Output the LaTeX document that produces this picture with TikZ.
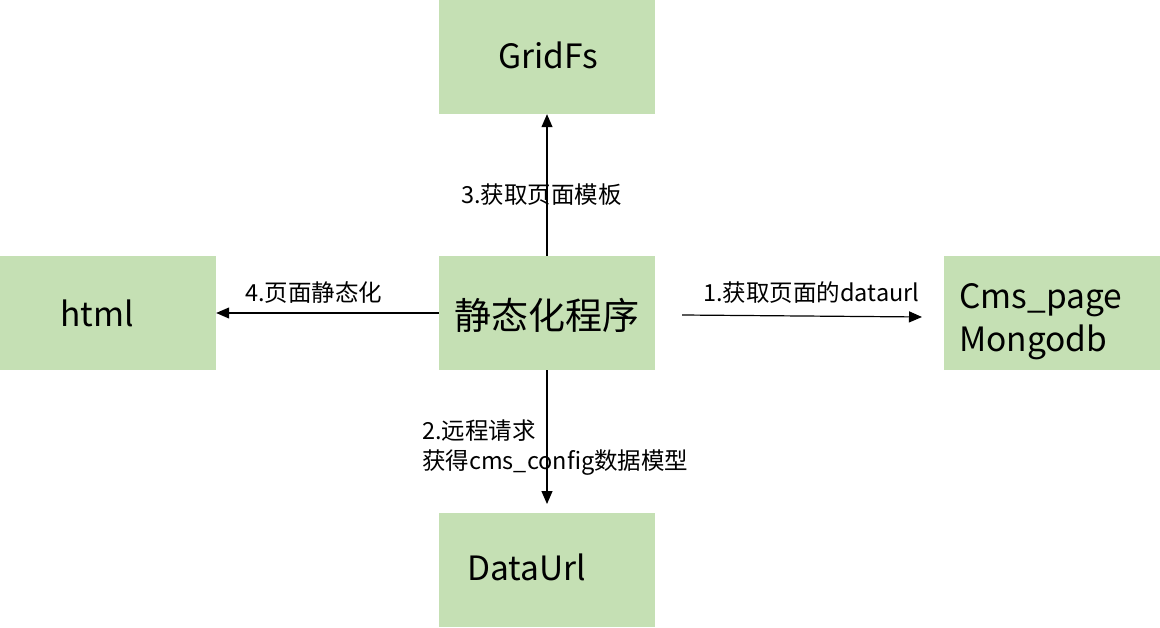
\documentclass[tikz,border=0pt]{standalone}
\usepackage{fontspec}
\setmainfont{Noto Sans CJK SC}
\usetikzlibrary{arrows.meta}
\definecolor{boxgreen}{HTML}{C5E0B4}
\tikzset{
  box/.style={fill=boxgreen, draw=none, minimum width=216pt, minimum height=114pt, inner sep=0pt},
  boxtext/.style={font=\fontsize{33.5}{40}\selectfont, inner sep=0pt, anchor=west, align=left},
  lbl/.style={font=\fontsize{23.5}{30}\selectfont, inner sep=0pt, anchor=west, align=left},
  conn/.style={line width=1.2pt, -{Triangle[length=13pt,width=11pt]}}
}
\begin{document}
\begin{tikzpicture}[x=1pt,y=-1pt]
\useasboundingbox (0,0) rectangle (1160,628);
\node[box] (gridfs) at (547,57) {};
\node[box] (html) at (108,313) {};
\node[box] (prog) at (547,313) {};
\node[box] (cms) at (1052,313) {};
\node[box] (dataurl) at (547,570) {};
\node[boxtext] (tgrid) at (498,55) {GridFs};
\node[boxtext] (thtml) at (60,313) {html};
\node[boxtext, font=\fontsize{37}{44}\selectfont] (tprog) at (454,315) {静态化程序};
\node[boxtext, font=\fontsize{33.5}{43}\selectfont] (tcms) at (959,322) {Cms\_page\\Mongodb};
\node[boxtext] (tdata) at (467,567) {DataUrl};
\coordinate (a1s) at (682,315);
\coordinate (a1e) at (922,317);
\coordinate (a2e) at (547,504);
\draw[conn] (a1s) -- (a1e);
\draw[conn] (prog.south) -- (a2e);
\draw[conn] (prog.north) -- (gridfs.south);
\draw[conn] (prog.west) -- (html.east);
\node[lbl] (l1) at (703,293) {1.获取页面的dataurl};
\node[lbl] (l2) at (422,448) {2.远程请求\\获得cms\_config数据模型};
\node[lbl] (l3) at (461,195) {3.获取页面模板};
\node[lbl] (l4) at (245,293) {4.页面静态化};
\end{tikzpicture}
\end{document}
